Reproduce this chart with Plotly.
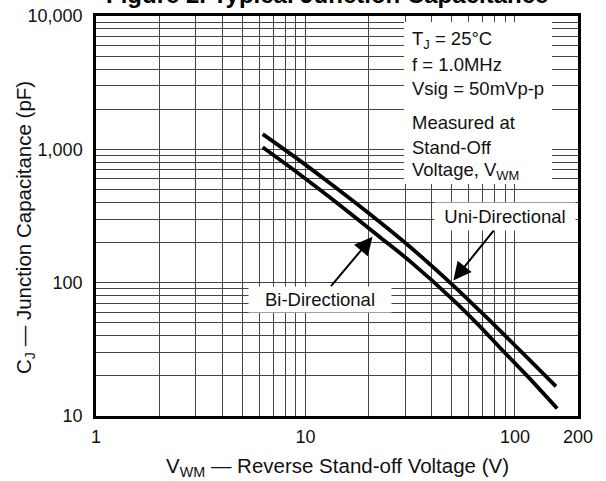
import numpy as np
import plotly.graph_objects as go

# ---- data ----
uni_v = [6.25, 9.4, 13.1, 22.7, 31.5, 50.8, 68, 83, 118, 157]
uni_c = [1300, 823, 556, 284, 186, 95.1, 61.4, 45.3, 26.1, 16.7]
bi_v = [6.25, 9.4, 13.1, 22.7, 31.5, 50.8, 68, 87, 118, 159]
bi_c = [1036, 648, 435, 219, 145, 74, 47, 31.2, 19.0, 11.4]

x_ticks = [1, 10, 100, 200]
x_ticktext = ["1", "10", "100", "200"]
y_ticks = [10, 100, 1000, 10000]
y_ticktext = ["10", "100", "1,000", "10,000"]
x_minor = [2, 3, 4, 5, 6, 7, 8, 9, 20, 30, 40, 50, 60, 70, 80, 90]
y_minor = [20, 30, 40, 50, 60, 70, 80, 90, 200, 300, 400, 500, 600, 700, 800, 900,
           2000, 3000, 4000, 5000, 6000, 7000, 8000, 9000]

# arrow targets (data coords)
bi_tip = (20.9, 221)
uni_tip = (50.8, 104)

FONT = "Arial, Liberation Sans, Helvetica, sans-serif"
W, H = 606, 481
L, R, T, B = 96, 28, 16, 65
pw, ph = W - L - R, H - T - B


def px(xp):
    return (xp - L) / pw


def py(yp):
    return (H - B - yp) / ph


fig = go.Figure()
for xs, ys, nm in [(uni_v, uni_c, "Uni-Directional"), (bi_v, bi_c, "Bi-Directional")]:
    fig.add_trace(go.Scatter(x=xs, y=ys, mode="lines", name=nm,
                             line=dict(color="black", width=3.8, shape="spline", smoothing=0.8),
                             showlegend=False))

grid_col = "#444444"
axis_common = dict(type="log", showgrid=True, gridcolor=grid_col, gridwidth=1.3,
                   showline=True, mirror=True, linecolor="black", linewidth=2.5,
                   ticks="", zeroline=False, automargin=False,
                   tickfont=dict(family=FONT, size=18, color="#111"))
fig.update_xaxes(range=[0, np.log10(200)], tickvals=x_ticks, ticktext=x_ticktext,
                 minor=dict(tickvals=x_minor, showgrid=True, gridcolor=grid_col, gridwidth=1.3),
                 ticklabelstandoff=3, **axis_common)
fig.update_yaxes(range=[1, 4], tickvals=y_ticks, ticktext=y_ticktext,
                 minor=dict(tickvals=y_minor, showgrid=True, gridcolor=grid_col, gridwidth=1.3),
                 ticklabelstandoff=7, **axis_common)

# white box behind the conditions text
fig.add_shape(type="rect", xref="paper", yref="paper", x0=px(404), x1=px(552), y0=py(184), y1=py(22),
              fillcolor="white", line=dict(width=0), layer="above")

annotations = []
cond_lines = [("T<sub>J</sub> = 25°C", 40), ("f = 1.0MHz", 64), ("Vsig = 50mVp-p", 88),
              ("Measured at", 122), ("Stand-Off", 147), ("Voltage, V<sub>WM</sub>", 171)]
for txt, yp in cond_lines:
    annotations.append(dict(text=txt, xref="paper", yref="paper", x=px(410), y=py(yp),
                            xanchor="left", yanchor="middle", showarrow=False,
                            font=dict(family=FONT, size=18.5, color="#111")))

# axis titles
annotations.append(dict(text="V<sub>WM</sub> — Reverse Stand-off Voltage (V)", xref="paper", yref="paper",
                        x=px(337), y=py(467), xanchor="center", yanchor="middle", showarrow=False,
                        font=dict(family=FONT, size=20.5, color="#111")))
annotations.append(dict(text="C<sub>J</sub> — Junction Capacitance (pF)", xref="paper", yref="paper",
                        x=px(25), y=py(228), xanchor="center", yanchor="middle", showarrow=False,
                        textangle=-90, font=dict(family=FONT, size=20.5, color="#111")))

# Bi-Directional label with arrow
annotations.append(dict(text="Bi-Directional", x=np.log10(bi_tip[0]), y=np.log10(bi_tip[1]),
                        xref="x", yref="y", ax=-52.5, ay=62.3, showarrow=True,
                        arrowhead=2, arrowsize=1.8, arrowwidth=2, arrowcolor="black",
                        bgcolor="white", width=142, height=25, borderpad=0,
                        font=dict(family=FONT, size=18.5, color="#111")))
# Uni-Directional label with arrow
annotations.append(dict(text="Uni-Directional", x=np.log10(uni_tip[0]), y=np.log10(uni_tip[1]),
                        xref="x", yref="y", ax=51.7, ay=-63.7, showarrow=True,
                        arrowhead=2, arrowsize=1.8, arrowwidth=2, arrowcolor="black",
                        bgcolor="white", width=140, height=27, borderpad=0,
                        font=dict(family=FONT, size=18.5, color="#111")))

# partially visible figure title at the top edge
annotations.append(dict(text="<b>Figure 2. Typical Junction Capacitance</b>", xref="paper", yref="paper",
                        x=px(327), y=py(-5.5), xanchor="center", yanchor="middle", showarrow=False,
                        font=dict(family=FONT, size=24, color="black")))

fig.update_layout(width=W, height=H, autosize=False,
                  margin=dict(l=L, r=R, t=T, b=B),
                  paper_bgcolor="white", plot_bgcolor="white",
                  annotations=annotations, showlegend=False)

fig.write_html("out.html", config={"displayModeBar": False},
               post_script="document.body.style.margin='0';document.body.style.overflow='hidden';")
